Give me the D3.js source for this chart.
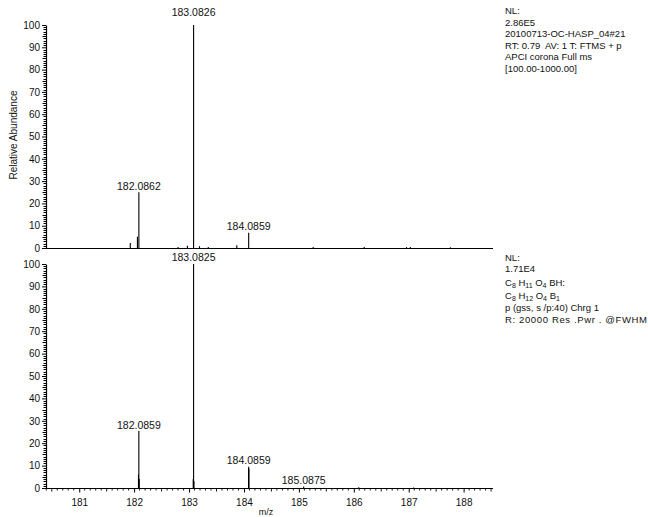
<!DOCTYPE html>
<html><head><meta charset="utf-8">
<script src="https://cdn.jsdelivr.net/npm/d3@7"></script>
<style>body{margin:0;background:#fff}svg{display:block}text{font-family:"Liberation Sans",Arial,sans-serif;fill:#111}</style>
</head><body>
<svg id="c" width="648" height="517"></svg>
<script>
const xDomain = [180.395, 188.535];
const xTicks = [181, 182, 183, 184, 185, 186, 187, 188];
const yTicks = [0, 10, 20, 30, 40, 50, 60, 70, 80, 90, 100];

const topMz    = [181.93, 182.06, 182.0862, 182.80, 182.97, 183.0826, 183.19, 183.35, 183.87, 184.0859, 185.26, 186.19, 186.96, 187.03, 187.76];
const topAbund = [2.2, 5, 25, 0.5, 1, 100, 0.8, 0.5, 1.2, 6.8, 0.5, 0.4, 0.4, 0.4, 0.3];
const topLabelMz   = [182.0862, 183.0826, 184.0859];
const topLabelVal  = [25, 100, 6.8];
const topLabelText = ["182.0862", "183.0826", "184.0859"];

const botMz    = [182.079, 182.0859, 182.092, 183.076, 183.0825, 183.089, 184.083, 184.0859, 184.089, 185.0875, 186.09, 187.09];
const botAbund = [6, 25.4, 4, 4, 100, 3, 9, 9.5, 8.5, 0.7, 0.3, 0.2];
const botLabelMz   = [182.0859, 183.0825, 184.0859, 185.0875];
const botLabelVal  = [25.4, 100, 9.5, 0.7];
const botLabelText = ["182.0859", "183.0825", "184.0859", "185.0875"];

const topInfo = ["NL:", "2.86E5", "20100713-OC-HASP_04#21", "RT: 0.79\u00a0 AV: 1 T: FTMS + p", "APCI corona Full ms", "[100.00-1000.00]"];
const botInfo = ["NL:", "1.71E4"];
const botFormula1 = [["C",""],["8","s"],[" H",""],["11","s"],[" O",""],["4","s"],[" BH:",""]];
const botFormula2 = [["C",""],["8","s"],[" H",""],["12","s"],[" O",""],["4","s"],[" B",""],["1","s"]];
const botInfo2 = ["p (gss, s /p:40) Chrg 1", "R: 20000 Res .Pwr . @FWHM"];

const svg = d3.select("#c");
const left = 46, right = 493;
const x = d3.scaleLinear().domain(xDomain).range([left, right]);
const panels = [
  {top: 25, bottom: 248, mz: topMz, ab: topAbund, lm: topLabelMz, lv: topLabelVal, lt: topLabelText, xt: false, maxOff: 9},
  {top: 264, bottom: 488, mz: botMz, ab: botAbund, lm: botLabelMz, lv: botLabelVal, lt: botLabelText, xt: true, maxOff: 3}
];

panels.forEach(p => {
  const y = d3.scaleLinear().domain([0, 100]).range([p.bottom, p.top]);
  const g = svg.append("g");
  const yAxis = d3.axisLeft(y).tickValues(yTicks).tickSize(4).tickPadding(2).tickSizeOuter(0);
  const ga = g.append("g").attr("transform", `translate(${left},0)`).call(yAxis);
  ga.select(".domain").attr("stroke", "#000").attr("stroke-width", 1.2);
  ga.selectAll("line").attr("stroke", "#000");
  ga.selectAll("text").style("font-size", "10px").attr("fill", "#111");
  g.append("g").selectAll("line").data(d3.range(0, 101, 1).filter(v => v % 10 !== 0))
    .join("line").attr("x1", left).attr("x2", d => left - (d % 5 === 0 ? 3.5 : 2.5))
    .attr("y1", d => Math.round(y(d)) + 0.5).attr("y2", d => Math.round(y(d)) + 0.5)
    .attr("stroke", "#000").attr("stroke-width", 1);
  g.append("line").attr("x1", left).attr("x2", right).attr("y1", p.bottom + 0.5).attr("y2", p.bottom + 0.5)
    .attr("stroke", "#000").attr("stroke-width", 1.2);
  if (p.xt) {
    const xAxis = d3.axisBottom(x).tickValues(xTicks).tickFormat(d3.format("d")).tickSize(4).tickPadding(6).tickSizeOuter(0);
    const gx = g.append("g").attr("transform", `translate(0,${p.bottom + 0.5})`).call(xAxis);
    gx.select(".domain").remove();
    gx.selectAll("line").attr("stroke", "#000");
    gx.selectAll("text").style("font-size", "10px").attr("fill", "#111");
    const minors = d3.range(1804, 1886, 1).map(v => v / 10)
      .filter(v => v >= xDomain[0] && v <= xDomain[1] && Math.abs(v - Math.round(v)) > 0.01);
    g.append("g").selectAll("line").data(minors).join("line")
      .attr("x1", d => x(d)).attr("x2", d => x(d))
      .attr("y1", p.bottom + 0.5).attr("y2", d => p.bottom + 0.5 + (Math.abs(Math.round(d * 10) % 10 - 5) === 0 ? 3 : 2))
      .attr("stroke", "#000").attr("stroke-width", 0.9);
  }
  g.append("g").selectAll("line").data(p.mz.map((m, i) => [m, p.ab[i]])).join("line")
    .attr("x1", d => x(d[0])).attr("x2", d => x(d[0]))
    .attr("y1", p.bottom).attr("y2", d => y(d[1]))
    .attr("stroke", "#000").attr("stroke-width", 1.1);
  g.append("g").selectAll("text").data(p.lm.map((m, i) => [m, p.lv[i], p.lt[i]])).join("text")
    .attr("x", d => x(d[0])).attr("y", d => y(d[1]) - (d[1] >= 100 ? p.maxOff : 2.5))
    .attr("text-anchor", "middle").style("font-size", "10.5px").text(d => d[2]);
});

svg.append("text").attr("transform", "translate(17,135) rotate(-90)").attr("text-anchor", "middle")
  .style("font-size", "10px").text("Relative Abundance");
svg.append("text").attr("x", 266).attr("y", 515).attr("text-anchor", "middle").style("font-size", "9px").text("m/z");

const tx = 505;
const tb = [14, 25.5, 37, 48.5, 60, 71.5];
topInfo.forEach((t, i) => svg.append("text").attr("x", tx).attr("y", tb[i]).style("font-size", "9.5px").text(t));
const bb = [260.5, 272];
botInfo.forEach((t, i) => svg.append("text").attr("x", tx).attr("y", bb[i]).style("font-size", "9.5px").text(t));
function formula(parts, yy) {
  const t = svg.append("text").attr("x", tx).attr("y", yy).style("font-size", "9.5px");
  parts.forEach(([s, k], i) => {
    const ts = t.append("tspan").text(s);
    if (k === "s") ts.attr("dy", 2).style("font-size", "7px");
    else if (i > 0) ts.attr("dy", -2);
  });
}
formula(botFormula1, 286);
formula(botFormula2, 299);
const bb2 = [311, 323];
botInfo2.forEach((t, i) => {
  const el = svg.append("text").attr("x", tx).attr("y", bb2[i]).style("font-size", "9.5px").text(t);
  if (i === 1) el.attr("textLength", 142).attr("lengthAdjust", "spacing");
});
</script>
</body></html>
